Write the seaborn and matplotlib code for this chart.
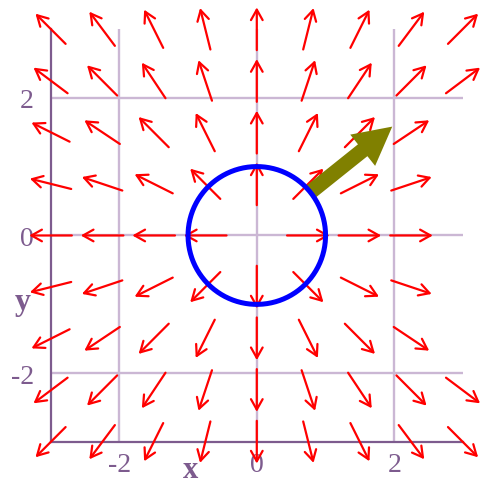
import matplotlib
matplotlib.use("Agg")
import matplotlib.pyplot as plt
import numpy as np
import seaborn as sns

# sample points of the vector field (every 0.75 from -3 to 3)
grid_x = [-3, -2.25, -1.5, -0.75, 0, 0.75, 1.5, 2.25, 3]
grid_y = [-3, -2.25, -1.5, -0.75, 0, 0.75, 1.5, 2.25, 3]
arrow_len = 0.62  # all field arrows drawn with the same length

tick_vals = [-2, 0, 2]
tick_labels = ["-2", "0", "2"]

# unit circle and the outward normal drawn on it
circle_radius = 1.0
normal_tail = (0.78, 0.63)
normal_tip = (1.97, 1.58)

sns.set_style("white")
plt.rcParams["font.family"] = ["Liberation Serif", "DejaVu Serif"]

purple = "#7d5b8e"
light_purple = "#cbb7d4"

fig = plt.figure(figsize=(4.81, 4.85), dpi=100)
ax = fig.add_axes([0, 0, 1, 1])
ax.set_xlim(-3.735, 3.261)
ax.set_ylim(-3.607, 3.432)

# light grid lines only inside the box
ax.vlines(tick_vals, -3, 3, color=light_purple, lw=1.7, zorder=1)
ax.hlines(tick_vals, -3, 3, color=light_purple, lw=1.7, zorder=1)

# axes lines at x=-3 and y=-3
ax.spines["top"].set_visible(False)
ax.spines["right"].set_visible(False)
for s in ["left", "bottom"]:
    ax.spines[s].set_position(("data", -3))
    ax.spines[s].set_bounds(-3, 3)
    ax.spines[s].set_color(purple)
    ax.spines[s].set_linewidth(1.6)

ax.set_xticks(tick_vals)
ax.set_xticklabels(tick_labels)
ax.set_yticks(tick_vals)
ax.set_yticklabels(tick_labels)
ax.tick_params(direction="inout", length=10, width=1.4, color=purple,
               labelcolor=purple, labelsize=20)
ax.tick_params(axis="x", pad=2)
ax.tick_params(axis="y", pad=7)

# radial field arrows
for gx in grid_x:
    for gy in grid_y:
        r = np.hypot(gx, gy)
        if r == 0:
            continue
        hx = gx / r * arrow_len / 2
        hy = gy / r * arrow_len / 2
        ax.annotate("", xy=(gx + hx, gy + hy), xytext=(gx - hx, gy - hy),
                    arrowprops=dict(arrowstyle="->,head_length=0.5,head_width=0.28",
                                    color="red", lw=1.6, shrinkA=0, shrinkB=0,
                                    mutation_scale=15),
                    zorder=3)

# big olive normal arrow
ax.arrow(normal_tail[0], normal_tail[1],
         normal_tip[0] - normal_tail[0], normal_tip[1] - normal_tail[1],
         width=0.22, head_width=0.58, head_length=0.55,
         length_includes_head=True, color="#808000", lw=0, zorder=4)

# blue circle
t = np.linspace(0, 2 * np.pi, 200)
sns.lineplot(x=circle_radius * np.cos(t), y=circle_radius * np.sin(t),
             sort=False, estimator=None, color="#0000ff", lw=3.6,
             zorder=5, ax=ax)

ax.text(-3.40, -1.067, "y", ha="center", va="baseline", fontsize=23,
        fontweight="bold", color=purple)
ax.text(-0.97, -3.50, "x", ha="center", va="baseline", fontsize=22,
        fontweight="bold", color=purple)

plt.savefig("out.png", dpi=100)
